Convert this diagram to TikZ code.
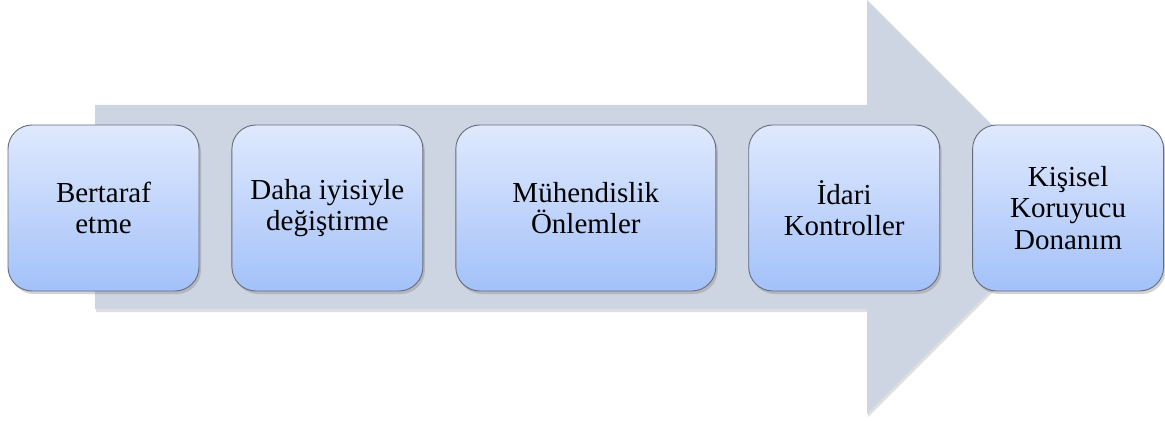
\documentclass[tikz,border=0pt]{standalone}
\usepackage{fontspec}
\setmainfont{Liberation Serif}
\usetikzlibrary{shapes,arrows,positioning,shadows}
\definecolor{okgri}{HTML}{CDD4E2}
\definecolor{ustmavi}{HTML}{DFE9FD}
\definecolor{altmavi}{HTML}{A3C1F9}
\definecolor{kenar}{HTML}{666C78}

\begin{document}
\begin{tikzpicture}[x=1pt,y=-1pt,node distance=32pt]
  
  \tikzset{ctrl node/.style={rectangle, draw=kenar, line width=0.9pt,
  		top color=ustmavi, bottom color=altmavi, rounded corners=24pt,
  		minimum width=191pt, minimum height=166pt, align=center,
  		font=\fontsize{29}{31.5}\selectfont,
  		drop shadow={opacity=0.35, shadow xshift=2pt, shadow yshift=-3pt}}, }
  \tikzset{wide node/.style={minimum width=260pt}, }
  \tikzset{ok zemin/.style={fill=okgri,
  		drop shadow={opacity=0.25, shadow xshift=1pt, shadow yshift=-3pt}}, }
\useasboundingbox (0,0) rectangle (1165,425);
\path[ok zemin] (95,105) -- (867,105) -- (867,0) -- (1074,207)
  -- (867,414) -- (867,309) -- (95,309) -- cycle;
\node[ctrl node] (1) at (103.5,208)   {Bertaraf\\etme};
\node[ctrl node] (2)[right =of 1]   {Daha iyisiyle\\değiştirme};
\node[ctrl node,wide node] (3)[right =of 2]   {Mühendislik\\Önlemler};
\node[ctrl node] (4)[right =of 3]   {İdari\\Kontroller};
\node[ctrl node] (5)[right =of 4]   {Kişisel\\Koruyucu\\Donanım};
%%  
\end{tikzpicture}
\end{document}
